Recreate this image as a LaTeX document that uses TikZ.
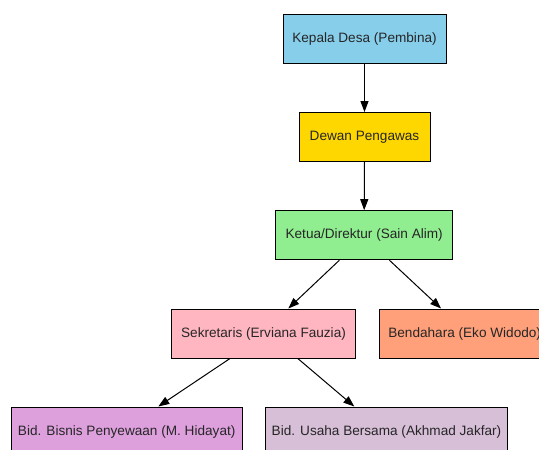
\documentclass[tikz,border=0pt]{standalone}
\usepackage{fontspec}
\setmainfont{Liberation Sans}
\usetikzlibrary{arrows.meta}
\definecolor{cskyblue}{HTML}{87CEEB}
\definecolor{cgold}{HTML}{FFD700}
\definecolor{cgreen}{HTML}{90EE90}
\definecolor{cpink}{HTML}{FFB6C1}
\definecolor{csalmon}{HTML}{FFA07A}
\definecolor{cplum}{HTML}{DDA0DD}
\definecolor{cthistle}{HTML}{D8BFD8}
\tikzset{
  box/.style={draw=black, line width=1pt, rectangle, minimum height=49pt, inner sep=0pt,
    font=\fontsize{13.6}{16}\selectfont, text=black!85},
  link/.style={draw=black, line width=1pt, -{Triangle[length=11pt,width=8pt]}}
}
\begin{document}
\begin{tikzpicture}[x=1pt,y=-1pt]
\useasboundingbox (0,0) rectangle (539,450);
\fill[white] (0,0) rectangle (539,450);
\clip (0,0) rectangle (539,450);
\node[box, fill=cskyblue, minimum width=163pt] (kd) at (364.5,38.5) {Kepala Desa (Pembina)};
\node[box, fill=cgold, minimum width=131pt] (dp) at (364.5,137) {Dewan Pengawas};
\node[box, fill=cgreen, minimum width=177pt] (kt) at (364.2,235.2) {Ketua/Direktur (Sain Alim)};
\node[box, fill=cpink, minimum width=183.6pt] (sk) at (263.5,333.5) {Sekretaris (Erviana Fauzia)};
\node[box, fill=csalmon, minimum width=170pt] (bd) at (464.7,333.5) {Bendahara (Eko Widodo)};
\node[box, fill=cplum, minimum width=231.3pt] (bb) at (126.7,431.5) {Bid. Bisnis Penyewaan (M. Hidayat)};
\node[box, fill=cthistle, minimum width=241.6pt] (bu) at (386.5,431.5) {Bid. Usaha Bersama (Akhmad Jakfar)};
\draw[link] (kd.south) -- (dp.north);
\draw[link] (dp.south) -- (kt.north);
\draw[link] ([xshift=-24.8pt]kt.south) -- ([xshift=24.8pt]sk.north);
\draw[link] ([xshift=25.2pt]kt.south) -- ([xshift=-23.6pt]bd.north);
\draw[link] ([xshift=-33.5pt]sk.south) -- ([xshift=31.6pt]bb.north);
\draw[link] ([xshift=34.3pt]sk.south) -- ([xshift=-32.2pt]bu.north);
\end{tikzpicture}
\end{document}
